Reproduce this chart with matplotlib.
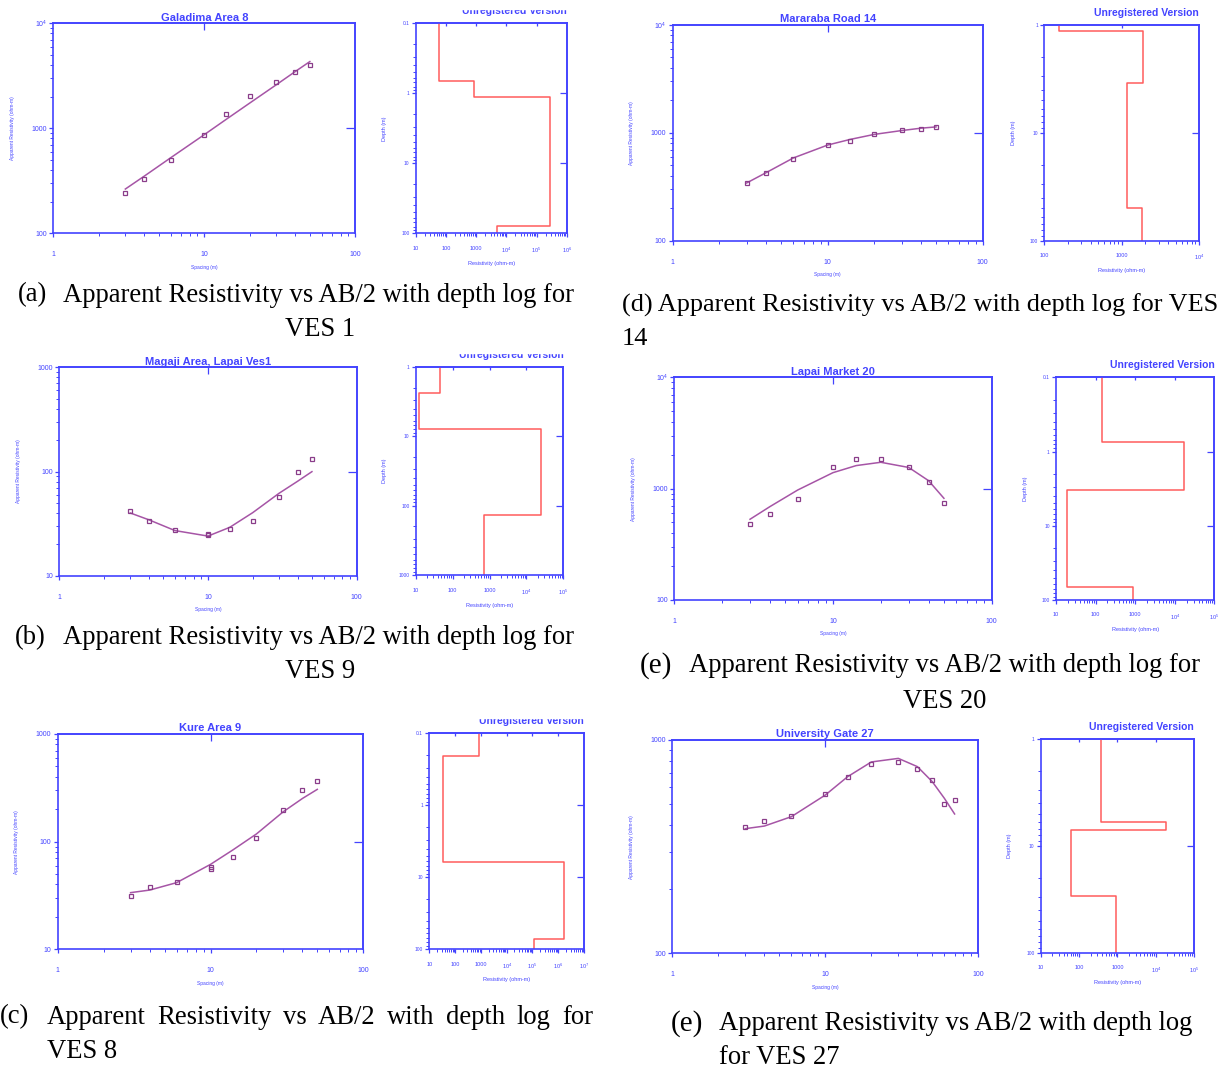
import numpy as np
import matplotlib.pyplot as plt
from matplotlib.ticker import NullFormatter, NullLocator
from matplotlib.patches import Rectangle

W, H = 1220, 1071
BLUE = '#4343ff'
RED = '#ff5c5c'
PURPLE = '#a655a6'
MARK = '#8a3d8a'

plt.rcParams['font.family'] = 'Liberation Sans'
plt.rcParams['mathtext.default'] = 'regular'

# spacing AB/2 (m)
sp = [3, 4, 6, 10, 14, 20, 30, 40, 50]
sp_dup = [3, 4, 6, 10, 10, 14, 20, 30, 40, 50]
sp_27 = [3, 4, 6, 10, 14, 20, 30, 40, 50, 60, 70]

# (a) VES 1 - Galadima Area 8
a_obs = [244, 329, 495, 871, 1380, 2018, 2762, 3444, 4009]
a_fit = [264, 350, 525, 870, 1220, 1740, 2600, 3470, 4320]
a_rho = [61, 877, 280000, 4800]
a_z = [0.667, 1.13, 78.5]

# (b) VES 9 - Magaji Area, Lapai
b_obs = [42, 33.7, 27.4, 25.3, 24.6, 27.9, 33.5, 57.3, 98.2, 131]
b_fit = [40, 34.4, 27.1, 24.0, 29.1, 40.3, 61.7, 80.5, 99.7]
b_rho = [46.6, 12.3, 24800, 724]
b_z = [2.42, 7.9, 136]

# (c) VES 8 - Kure Area
c_obs = [31.5, 38.2, 42.5, 58.6, 55.3, 71.4, 109, 197, 302, 363]
c_fit = [33.6, 35.5, 41.6, 61.5, 83.7, 118, 190, 252, 306]
c_rho = [850, 35, 1.74e6, 1.1e5]
c_z = [0.207, 6.05, 71.8]

# (d) VES 14 - Mararaba Road
d_obs = [343, 421, 571, 771, 846, 968, 1055, 1093, 1140]
d_fit = [343, 427, 585, 771, 870, 968, 1050, 1105, 1135]
d_rho = [155, 1890, 1170, 1815]
d_z = [1.13, 3.43, 49.8]

# (e) VES 20 - Lapai Market
e_obs = [478, 596, 802, 1578, 1858, 1833, 1555, 1156, 743]
e_fit = [531, 689, 973, 1392, 1611, 1725, 1550, 1180, 819]
e_rho = [143, 17500, 19.3, 902]
e_z = [0.755, 3.27, 66]

# (f) VES 27 - University Gate
f_obs = [392, 419, 441, 559, 673, 769, 786, 735, 648, 501, 524]
f_fit = [384, 395, 437, 552, 673, 789, 820, 750, 638, 533, 450]
f_rho = [375, 18200, 61.8, 905]
f_z = [5.94, 7.16, 29.3]

SUP = {1: '10', 2: '100', 3: '1000', 4: '10$^{4}$', 5: '10$^{5}$', 6: '10$^{6}$', 7: '10$^{7}$'}

fig = plt.figure(figsize=(W / 100, H / 100), dpi=100)


def box(l, t, r, b):
    return [l / W, 1 - b / H, (r - l) / W, (b - t) / H]


def style(ax):
    for s in ax.spines.values():
        s.set_color(BLUE)
        s.set_linewidth(1.2)
    ax.xaxis.set_minor_formatter(NullFormatter())
    ax.yaxis.set_minor_formatter(NullFormatter())
    ax.tick_params(which='both', direction='out', colors=BLUE)
    ax.tick_params(which='major', length=3, width=0.9)
    ax.tick_params(which='minor', length=2.2, width=0.7)


def inner_ticks(ax, xt, yt, xlen, ylen):
    top = ax.secondary_xaxis('top')
    top.set_xticks(xt)
    top.xaxis.set_minor_locator(NullLocator())
    top.tick_params(direction='in', length=xlen, width=0.9, color=BLUE, labeltop=False)
    right = ax.secondary_yaxis('right')
    right.set_yticks(yt)
    right.yaxis.set_minor_locator(NullLocator())
    right.tick_params(direction='in', length=ylen, width=0.9, color=BLUE, labelright=False)
    for sec in (top, right):
        for s in sec.spines.values():
            s.set_color(BLUE)
            s.set_linewidth(1.2)


def sounding(pos, title, xs, obs, xf, fit, ylo, yhi, mid):
    ax = fig.add_axes(box(*pos))
    ax.set_xscale('log')
    ax.set_yscale('log')
    ax.plot(xf, fit, color=PURPLE, lw=1.1)
    ax.plot(xs, obs, ls='none', marker='s', ms=3.0, mfc='none', mec=MARK, mew=0.9)
    ax.set_xlim(1, 100)
    ax.set_ylim(ylo, yhi)
    style(ax)
    ax.set_xticks([1, 10, 100], ['1', '10', '100'])
    decs = [d for d in range(1, 6) if ylo <= 10 ** d <= yhi]
    ax.set_yticks([10 ** d for d in decs], [SUP[d] for d in decs])
    ax.tick_params(axis='x', which='major', pad=10, labelsize=5)
    ax.tick_params(axis='y', which='major', pad=1.5, labelsize=5)
    ax.set_title(title, color=BLUE, fontsize=8, fontweight='bold', pad=2)
    inner_ticks(ax, [10], mid, 5, 6.5)
    ax.annotate('Spacing (m)', xy=(0.5, 0), xycoords='axes fraction',
                xytext=(0, -34 * 0.72), textcoords='offset points',
                ha='center', va='center', fontsize=3.5, color=BLUE)
    ax.annotate('Apparent Resistivity (ohm-m)', xy=(0, 0.5), xycoords='axes fraction',
                xytext=(-41 * 0.72, 0), textcoords='offset points', rotation=90,
                ha='center', va='center', fontsize=3.5, color=BLUE)
    return ax


def depth_log(pos, rho, z, xlo, xhi, ztop, zbot):
    ax = fig.add_axes(box(*pos))
    ax.set_xscale('log')
    ax.set_yscale('log')
    xs = np.repeat(rho, 2)
    ys = np.concatenate([[ztop], np.repeat(z, 2), [zbot]])
    ax.plot(xs, ys, color=RED, lw=1.1)
    ax.set_xlim(xlo, xhi)
    ax.set_ylim(zbot, ztop)
    style(ax)
    xd = list(range(int(round(np.log10(xlo))), int(round(np.log10(xhi))) + 1))
    ax.set_xticks([10.0 ** d for d in xd], [SUP[d] for d in xd])
    zd = list(range(int(round(np.log10(ztop))), int(round(np.log10(zbot))) + 1))
    zl = {-1: '0.1', 0: '1', 1: '10', 2: '100', 3: '1000'}
    ax.set_yticks([10.0 ** d for d in zd], [zl[d] for d in zd])
    ax.tick_params(axis='x', which='major', pad=6, labelsize=4)
    ax.tick_params(axis='y', which='major', pad=1.5, labelsize=3.5)
    inner_ticks(ax, [10.0 ** d for d in xd[1:-1]], [10.0 ** d for d in zd[1:-1]], 2.5, 5)
    ax.annotate('Resistivity (ohm-m)', xy=(0.5, 0), xycoords='axes fraction',
                xytext=(0, -30 * 0.72), textcoords='offset points',
                ha='center', va='center', fontsize=4, color=BLUE)
    ax.annotate('Depth (m)', xy=(0, 0.5), xycoords='axes fraction',
                xytext=(-31 * 0.72, 0), textcoords='offset points', rotation=90,
                ha='center', va='center', fontsize=4, color=BLUE)
    ax.annotate('Unregistered Version', xy=(1, 1), xycoords='axes fraction',
                xytext=(0, 12 * 0.72), textcoords='offset points',
                ha='right', va='center', fontsize=7.5, fontweight='bold', color=BLUE)
    return ax


sounding((53.3, 23.3, 355.3, 233.3), 'Galadima Area 8', sp, a_obs, sp, a_fit, 100, 1e4, [1000])
depth_log((415.7, 23.3, 566.7, 233.3), a_rho, a_z, 10, 1e6, 0.1, 100)

sounding((59.3, 367.3, 356.7, 575.7), 'Magaji Area, Lapai Ves1', sp_dup, b_obs, sp, b_fit, 10, 1000, [100])
depth_log((415.7, 366.7, 563.3, 575), b_rho, b_z, 10, 1e5, 1, 1000)

sounding((57.7, 734, 363.3, 949.3), 'Kure Area 9', sp_dup, c_obs, sp, c_fit, 10, 1000, [100])
depth_log((429.3, 733.3, 584, 949.3), c_rho, c_z, 10, 1e7, 0.1, 100)

sounding((672.7, 25, 982.7, 240.7), 'Mararaba Road 14', sp, d_obs, sp, d_fit, 100, 1e4, [1000])
depth_log((1044.3, 25, 1199, 240.7), d_rho, d_z, 100, 1e4, 1, 100)

sounding((674.3, 377.3, 991.7, 600), 'Lapai Market 20', sp, e_obs, sp, e_fit, 100, 1e4, [1000])
depth_log((1056, 377.3, 1214.3, 600), e_rho, e_z, 10, 1e5, 0.1, 100)

sounding((672.3, 740, 978.3, 953.3), 'University Gate 27', sp_27, f_obs, sp_27, f_fit, 100, 1000, [])
depth_log((1040.7, 739, 1194, 952.7), f_rho, f_z, 10, 1e5, 1, 100)

# cropped edges of the original screenshots
for l, t, r, b in [(450, 0, 590, 8.5), (450, 340, 590, 353.5), (450, 700, 595, 717.5), (375, 720, 401, 990)]:
    fig.patches.append(Rectangle((l / W, 1 - b / H), (r - l) / W, (b - t) / H,
                                 transform=fig.transFigure, color='white', zorder=10))


def cap(x, y, s, ha='left', size=19.2):
    return fig.text(x / W, 1 - y / H, s, ha=ha, va='center', fontsize=size,
                    family='Liberation Serif', color='black')


cap(18, 295, '(a)')
cap(63, 295, 'Apparent Resistivity vs AB/2 with depth log for')
cap(320, 329, 'VES 1', ha='center')
cap(622, 305, '(d) Apparent Resistivity vs AB/2 with depth log for VES', size=18.9)
cap(622, 339, '14', size=18.9)
cap(15, 638, '(b)')
cap(63, 638, 'Apparent Resistivity vs AB/2 with depth log for')
cap(320, 672, 'VES 9', ha='center')
cap(640, 666, '(e)', size=21)
cap(689, 666, 'Apparent Resistivity vs AB/2 with depth log for')
cap(945, 701, 'VES 20', ha='center')

# justified caption line for (c)
words = ['(c)', 'Apparent', 'Resistivity', 'vs', 'AB/2', 'with', 'depth', 'log', 'for']
texts = [cap(0, 1017, w) for w in words]
renderer = fig.canvas.get_renderer()
widths = [t.get_window_extent(renderer).width for t in texts]
gap = (593 - 47 - sum(widths[1:])) / (len(words) - 2)
xpos = 47
for t, wd in zip(texts[1:], widths[1:]):
    t.set_x(xpos / W)
    xpos += wd + gap
cap(47, 1051, 'VES 8')

cap(671, 1024, '(e)', size=21)
cap(719, 1024, 'Apparent Resistivity vs AB/2 with depth log')
cap(719, 1057, 'for VES 27')

fig.savefig('out.png', dpi=100, facecolor='white')
